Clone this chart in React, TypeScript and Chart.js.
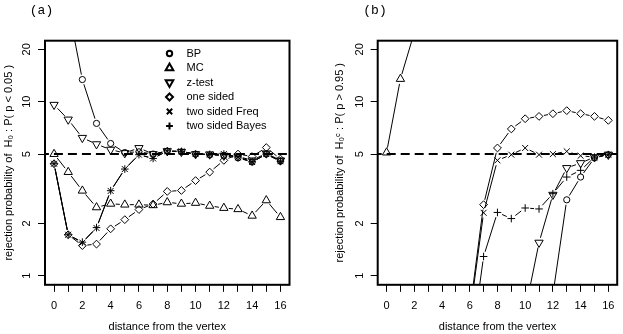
import React, { useEffect, useRef } from 'react';
import { Chart, registerables } from 'chart.js';
import { drawPoint } from 'chart.js/helpers';

Chart.register(...registerables);

// ---------- data ----------
const distance = [0, 1, 2, 3, 4, 5, 6, 7, 8, 9, 10, 11, 12, 13, 14, 15, 16];
const yTickValues = [1, 2, 5, 10, 20];
const referenceLevel = 5;
const seriesNames = ['BP', 'MC', 'z-test', 'one sided', 'two sided Freq', 'two sided Bayes'];

// panel (a): rejection probability of H0 : P(p < 0.05)
const bpA = [null, 35, 13.4, 7.5, 5.75, 5.1, 5.15, 5.0, 5.2, 5.15, 5.0, 4.95, 4.9, 4.75, 4.5, 5.0, 4.55];
const mcA = [5.0, 3.94, 3.08, 2.47, 2.59, 2.56, 2.56, 2.54, 2.64, 2.59, 2.62, 2.52, 2.45, 2.41, 2.21, 2.71, 2.17];
const zTestA = [9.6, 7.9, 6.2, 5.7, 5.3, 5.07, 5.42, 5.0, 5.2, 5.15, 5.0, 4.98, 4.9, 4.85, 4.6, 5.05, 4.6];
const oneSidedA = [4.4, 1.72, 1.49, 1.52, 1.86, 2.1, 2.4, 2.58, 3.05, 3.09, 3.52, 3.94, 4.6, 5.0, 4.84, 5.45, 4.68];
const twoFreqA = [4.4, 1.72, 1.55, 1.88, 3.07, 4.1, 4.96, 4.72, 5.2, 5.18, 5.0, 4.98, 5.0, 4.8, 4.5, 5.0, 4.55];
const twoBayesA = [4.4, 1.72, 1.56, 1.89, 3.08, 4.1, 4.96, 4.72, 5.22, 5.18, 5.0, 4.98, 5.0, 4.82, 4.52, 5.0, 4.55];

// panel (b): rejection probability of H0^c : P(p > 0.95)
const bpB = [null, null, null, null, null, null, null, null, null, null, null, null, 0.78, 2.73, 3.69, 4.75, 4.96];
const mcB = [5.1, 13.5, 25, null, null, null, null, null, null, null, null, null, null, null, null, null, null];
const zTestB = [null, null, null, null, null, null, null, null, null, null, 0.63, 1.55, 2.92, 4.16, 4.44, 4.8, 4.96];
const oneSidedB = [null, null, null, null, null, null, 0.62, 2.56, 5.42, 6.97, 7.98, 8.23, 8.53, 8.88, 8.53, 8.23, 7.81];
const twoFreqB = [null, null, null, null, null, null, 0.59, 2.3, 4.6, 4.96, 5.42, 4.96, 5.0, 5.18, 4.89, 4.8, 4.96];
const twoBayesB = [null, null, null, null, null, null, 0.34, 1.29, 2.31, 2.13, 2.45, 2.42, 2.96, 3.69, 4.03, 4.8, 4.96];

// ---------- styling ----------
const FONT = '"Liberation Sans", Arial, sans-serif';
const markers = [
  { pointStyle: 'circle', rotation: 0, radius: 3.1 },
  { pointStyle: 'triangle', rotation: 0, radius: 4.8 },
  { pointStyle: 'triangle', rotation: 180, radius: 4.8 },
  { pointStyle: 'rectRot', rotation: 0, radius: 3.9 },
  { pointStyle: 'crossRot', rotation: 0, radius: 4.2 },
  { pointStyle: 'cross', rotation: 0, radius: 3.8 },
];
const X_MIN = -0.64;
const X_MAX = 16.64;
const Y_MIN = 0.887;
const Y_MAX = 22.4;
const GAP = 5;

// R type="b": line segments with gaps around the points
const typeBLines = {
  id: 'typeBLines',
  beforeDatasetsDraw(chart: any) {
    const { ctx, chartArea } = chart;
    ctx.save();
    ctx.beginPath();
    ctx.rect(chartArea.left, chartArea.top, chartArea.right - chartArea.left, chartArea.bottom - chartArea.top);
    ctx.clip();
    ctx.strokeStyle = '#000';
    ctx.lineWidth = 1;
    chart.data.datasets.forEach((ds: any, i: number) => {
      if (!ds.typeB) return;
      const pts = chart.getDatasetMeta(i).data;
      for (let k = 0; k < pts.length - 1; k++) {
        const a = pts[k];
        const b = pts[k + 1];
        if (!a || !b || a.skip || b.skip) continue;
        if (!isFinite(a.x) || !isFinite(a.y) || !isFinite(b.x) || !isFinite(b.y)) continue;
        const dx = b.x - a.x;
        const dy = b.y - a.y;
        const len = Math.hypot(dx, dy);
        if (len <= 2 * GAP) continue;
        const ux = dx / len;
        const uy = dy / len;
        ctx.beginPath();
        ctx.moveTo(a.x + ux * GAP, a.y + uy * GAP);
        ctx.lineTo(b.x - ux * GAP, b.y - uy * GAP);
        ctx.stroke();
      }
    });
    ctx.restore();
  },
};

function makeDecor(label: string, labelX: number, labelY: number, withLegend: boolean) {
  return {
    id: 'panelDecor',
    afterDraw(chart: any) {
      const { ctx, chartArea } = chart;
      ctx.save();
      ctx.strokeStyle = '#000';
      ctx.lineWidth = 2;
      ctx.strokeRect(chartArea.left, chartArea.top, chartArea.right - chartArea.left, chartArea.bottom - chartArea.top);
      ctx.fillStyle = '#000';
      ctx.font = '13px "Liberation Mono", "DejaVu Sans Mono", monospace';
      ctx.textAlign = 'center';
      ctx.textBaseline = 'middle';
      ctx.fillText(label, labelX, labelY);
      if (withLegend) {
        ctx.font = '11px ' + FONT;
        ctx.textAlign = 'left';
        seriesNames.forEach((name, i) => {
          const y = 53.5 + i * 14.5;
          ctx.save();
          ctx.lineWidth = 2;
          ctx.strokeStyle = '#000';
          ctx.fillStyle = 'rgba(0,0,0,0)';
          drawPoint(ctx, { pointStyle: markers[i].pointStyle, rotation: markers[i].rotation, radius: markers[i].radius - 0.4, borderWidth: 2 } as any, 169.5, y);
          ctx.restore();
          ctx.fillStyle = '#000';
          ctx.fillText(name, 186.5, y);
        });
      }
      ctx.restore();
    },
  };
}

function makeConfig(p: any) {
  const datasets: any[] = [
    {
      type: 'line',
      data: [{ x: -1, y: referenceLevel }, { x: 17, y: referenceLevel }],
      borderColor: '#000',
      borderWidth: 2,
      borderDash: [9, 5],
      pointRadius: 0,
      showLine: true,
      fill: false,
    },
  ];
  p.series.forEach((vals: (number | null)[], i: number) => {
    datasets.push({
      label: seriesNames[i],
      typeB: true,
      data: distance.map((d, k) => ({ x: d, y: vals[k] })),
      showLine: false,
      pointStyle: markers[i].pointStyle,
      pointRotation: markers[i].rotation,
      pointRadius: markers[i].radius,
      pointBorderWidth: 1,
      pointBorderColor: '#000',
      pointBackgroundColor: 'rgba(0,0,0,0)',
    });
  });
  return {
    type: 'scatter',
    data: { datasets },
    options: {
      responsive: false,
      maintainAspectRatio: false,
      animation: false,
      events: [],
      layout: { padding: { top: 40.7, right: p.padRight, left: p.padLeft, bottom: 0 } },
      plugins: { legend: { display: false }, tooltip: { enabled: false } },
      scales: {
        x: {
          type: 'linear',
          min: X_MIN,
          max: X_MAX,
          afterBuildTicks: (s: any) => {
            s.ticks = distance.map((v) => ({ value: v }));
          },
          afterFit: (s: any) => {
            s.height = 334 - 284.8;
          },
          ticks: {
            autoSkip: false,
            minRotation: 0,
            maxRotation: 0,
            padding: 8,
            color: '#000',
            font: { family: FONT, size: 11 },
            callback: (v: any) => (Number(v) % 2 === 0 ? String(v) : ''),
          },
          grid: { display: true, drawOnChartArea: false, drawTicks: true, tickLength: 7, color: '#000', lineWidth: 1 },
          border: { display: false },
          title: {
            display: true,
            text: 'distance from the vertex',
            color: '#000',
            font: { family: FONT, size: 11 },
            padding: { top: 0, bottom: 0.7 },
          },
        },
        y: {
          type: 'logarithmic',
          min: Y_MIN,
          max: Y_MAX,
          afterBuildTicks: (s: any) => {
            s.ticks = yTickValues.map((v) => ({ value: v }));
          },
          afterFit: (s: any) => {
            s.width = p.yWidth;
          },
          ticks: {
            autoSkip: false,
            minRotation: 90,
            maxRotation: 90,
            crossAlign: 'center',
            padding: 5,
            color: '#000',
            font: { family: FONT, size: 11 },
            callback: (v: any) => String(v),
          },
          grid: { display: true, drawOnChartArea: false, drawTicks: true, tickLength: 7, color: '#000', lineWidth: 1 },
          border: { display: false },
          title: {
            display: true,
            text: p.yTitle,
            color: '#000',
            font: { family: FONT, size: 11 },
            padding: { top: 2, bottom: 0 },
          },
        },
      },
    },
    plugins: [typeBLines, makeDecor(p.label, p.labelX, p.labelY, p.legend)],
  };
}

const panelA = {
  series: [bpA, mcA, zTestA, oneSidedA, twoFreqA, twoBayesA],
  yTitle: 'rejection probability of  H\u2080 : P( p < 0.05 )',
  label: '(a)',
  labelX: 41.5,
  labelY: 11,
  legend: true,
  padLeft: 0,
  yWidth: 45,
  padRight: 312 - 289.5,
};

const panelB = {
  series: [bpB, mcB, zTestB, oneSidedB, twoFreqB, twoBayesB],
  yTitle: 'rejection probability of  H\u2080\u1D9C : P( p > 0.95 )',
  label: '(b)',
  labelX: 63,
  labelY: 11,
  legend: false,
  padLeft: 19.5,
  yWidth: 46.2,
  padRight: 1.3,
};

export default function App() {
  const refA = useRef<HTMLCanvasElement>(null);
  const refB = useRef<HTMLCanvasElement>(null);
  useEffect(() => {
    document.body.style.margin = '0';
    const a = new Chart(refA.current as HTMLCanvasElement, makeConfig(panelA) as any);
    const b = new Chart(refB.current as HTMLCanvasElement, makeConfig(panelB) as any);
    return () => {
      a.destroy();
      b.destroy();
    };
  }, []);
  return (
    <div style={{ position: 'relative', width: 623, height: 334, background: '#fff' }}>
      <canvas ref={refA} width={312} height={334} style={{ position: 'absolute', left: 0, top: 0, width: 312, height: 334 }} />
      <canvas ref={refB} width={311} height={334} style={{ position: 'absolute', left: 312, top: 0, width: 311, height: 334 }} />
    </div>
  );
}
